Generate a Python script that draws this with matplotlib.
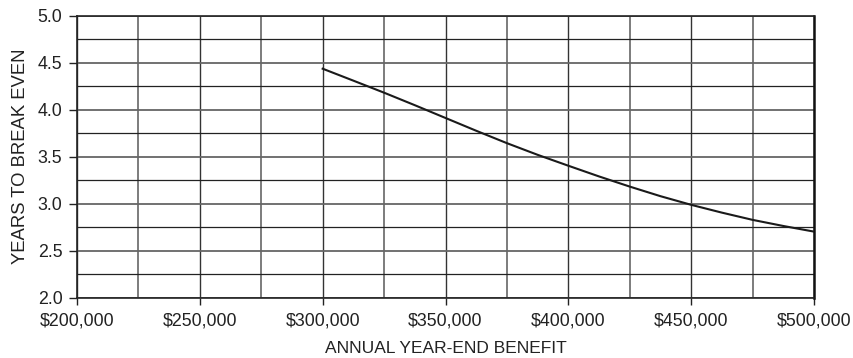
import matplotlib

matplotlib.use("Agg")
import matplotlib.pyplot as plt
from matplotlib.ticker import FuncFormatter, MultipleLocator

plt.rcParams["font.family"] = ["Liberation Sans", "DejaVu Sans"]

# Datos
benefit = [300000, 312500, 325000, 337500, 350000, 362500, 375000, 387500,
           400000, 412500, 425000, 437500, 450000, 462500, 475000, 487500, 500000]
years = [4.436, 4.309, 4.181, 4.048, 3.912, 3.776, 3.644, 3.52,
         3.404, 3.29, 3.182, 3.08, 2.988, 2.905, 2.828, 2.763, 2.703]

fig = plt.figure(figsize=(8.54, 3.58), dpi=100)
ax = fig.add_axes([77 / 854, 1 - 297.7 / 358, (814 - 77) / 854, (297.7 - 15.7) / 358])

ax.plot(benefit, years, color="#1a1a1a", linewidth=1.5, zorder=3)

ax.set_xlim(200000, 500000)
ax.set_ylim(2.0, 5.0)
ax.xaxis.set_major_locator(MultipleLocator(50000))
ax.xaxis.set_minor_locator(MultipleLocator(25000))
ax.yaxis.set_major_locator(MultipleLocator(0.5))
ax.yaxis.set_minor_locator(MultipleLocator(0.25))
ax.xaxis.set_major_formatter(FuncFormatter(lambda v, p: f"${v:,.0f}"))
ax.yaxis.set_major_formatter(FuncFormatter(lambda v, p: f"{v:.1f}"))

ax.grid(True, which="major", axis="x", color="#333333", linewidth=1.0)
ax.grid(True, which="minor", axis="x", color="#666666", linewidth=1.2)
ax.grid(True, which="major", axis="y", color="#666666", linewidth=1.3)
ax.grid(True, which="minor", axis="y", color="#222222", linewidth=0.9)

ax.tick_params(which="major", direction="out", length=5, width=1, colors="#222222",
               labelsize=12.8, labelcolor="#222222")
ax.tick_params(which="minor", length=0)
ax.tick_params(axis="y", length=6, pad=4.5)
ax.tick_params(axis="x", pad=6)
for side in ["left", "bottom", "top"]:
    ax.spines[side].set_color("#222222")
    ax.spines[side].set_linewidth(1.2)
ax.spines["right"].set_color("#111111")
ax.spines["right"].set_linewidth(1.8)

ax.set_xlabel("ANNUAL YEAR-END BENEFIT", fontsize=12.5, color="#222222", labelpad=8)
ax.set_ylabel("YEARS TO BREAK EVEN", fontsize=13.3, color="#222222", labelpad=6)

fig.savefig("out.png", dpi=100)
